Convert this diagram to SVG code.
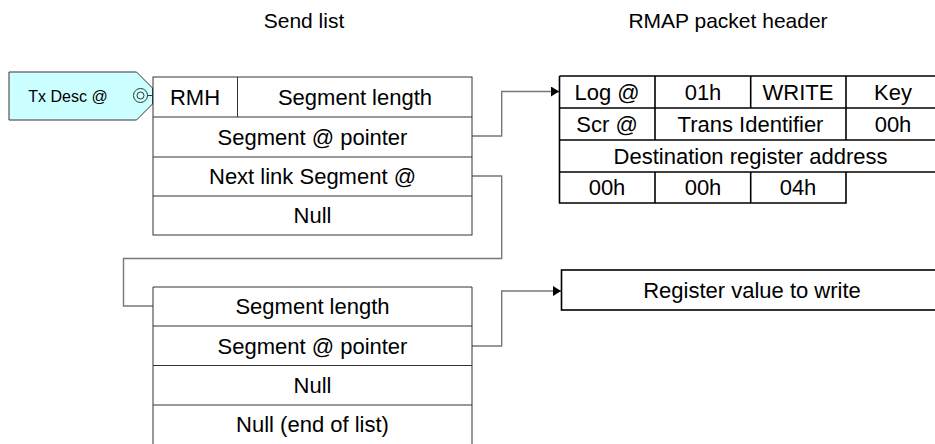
<svg xmlns="http://www.w3.org/2000/svg" width="935" height="444" viewBox="0 0 935 444">
<defs>
<marker id="arr" markerWidth="8" markerHeight="10" refX="8" refY="5" orient="auto" markerUnits="userSpaceOnUse">
<path d="M0,0 L8,5 L0,10 Z" fill="#000"/>
</marker>
<style>
text{font-family:"Liberation Sans",Arial,sans-serif;fill:#000;text-anchor:middle;dominant-baseline:central}
.t{font-size:22px}
.h{font-size:21px}
.s{font-size:16px}
.box{fill:#fff;stroke:#333;stroke-width:1}
.ln{stroke:#333;stroke-width:1;fill:none}
.tb{fill:#fff;stroke:#000;stroke-width:1.6}
.tl{stroke:#000;stroke-width:1.6;fill:none}
.con{stroke:#777;stroke-width:1.4;fill:none}
</style>
</defs>
<text class="h" x="304" y="20">Send list</text>
<text class="h" x="728" y="20">RMAP packet header</text>

<g id="connectors">
<path class="con" d="M472,136 H501.7 V91.5 H559" marker-end="url(#arr)"/>
<path class="con" d="M472,176 H501.7 V258.5 H123.5 V306 H153"/>
<path class="con" d="M472,346 H501.7 V291 H561" marker-end="url(#arr)"/>
</g>

<g id="txdesc">
<polygon points="9,72 136.5,72 152.5,88 152.5,104 136.5,120 9,120" fill="#ccffff" stroke="#333" stroke-width="1"/>
<text class="s" x="68" y="96">Tx Desc @</text>
<circle cx="140.5" cy="95.5" r="7" fill="none" stroke="#333" stroke-width="1"/>
<circle cx="140.5" cy="95.5" r="3.5" fill="none" stroke="#333" stroke-width="1"/>
<line class="ln" x1="147.5" y1="95.5" x2="153" y2="95.5"/>
</g>

<g id="sendlist1">
<rect class="box" x="153" y="77" width="319" height="158"/>
<line class="ln" x1="153" y1="117" x2="472" y2="117"/>
<line class="ln" x1="153" y1="157" x2="472" y2="157"/>
<line class="ln" x1="153" y1="196" x2="472" y2="196"/>
<line class="ln" x1="237.5" y1="77" x2="237.5" y2="117"/>
<text class="t" x="195" y="97">RMH</text>
<text class="t" x="355" y="97">Segment length</text>
<text class="t" x="312.5" y="137">Segment @ pointer</text>
<text class="t" x="312.5" y="176.5">Next link Segment @</text>
<text class="t" x="312.5" y="215.5">Null</text>
</g>

<g id="sendlist2">
<path class="box" d="M153,450 V287 H472 V450"/>
<line class="ln" x1="153" y1="326" x2="472" y2="326"/>
<line class="ln" x1="153" y1="365.5" x2="472" y2="365.5"/>
<line class="ln" x1="153" y1="405" x2="472" y2="405"/>
<text class="t" x="312.5" y="306.5">Segment length</text>
<text class="t" x="312.5" y="346">Segment @ pointer</text>
<text class="t" x="312.5" y="385">Null</text>
<text class="t" x="312.5" y="424.5">Null (end of list)</text>
</g>

<g id="rmapheader">
<path class="tb" d="M559.5,76 H945 M559.5,76 V203 H846 V172"/>
<line class="tl" x1="559.5" y1="108" x2="945" y2="108"/>
<line class="tl" x1="559.5" y1="140" x2="945" y2="140"/>
<line class="tl" x1="559.5" y1="172" x2="945" y2="172"/>
<line class="tl" x1="655" y1="76" x2="655" y2="140"/>
<line class="tl" x1="750.7" y1="76" x2="750.7" y2="108"/>
<line class="tl" x1="846" y1="76" x2="846" y2="140"/>
<line class="tl" x1="655" y1="172" x2="655" y2="203"/>
<line class="tl" x1="750.7" y1="172" x2="750.7" y2="203"/>
<text class="t" x="607" y="92">Log @</text>
<text class="t" x="703" y="92">01h</text>
<text class="t" x="798" y="92">WRITE</text>
<text class="t" x="893" y="92">Key</text>
<text class="t" x="607" y="124">Scr @</text>
<text class="t" x="750.5" y="124">Trans Identifier</text>
<text class="t" x="893" y="124">00h</text>
<text class="t" x="750.5" y="156">Destination register address</text>
<text class="t" x="607" y="187.5">00h</text>
<text class="t" x="703" y="187.5">00h</text>
<text class="t" x="798" y="187.5">04h</text>
</g>

<g id="regvalue">
<rect class="tb" x="561.5" y="270" width="390" height="40"/>
<text class="t" x="752" y="290">Register value to write</text>
</g>
</svg>
